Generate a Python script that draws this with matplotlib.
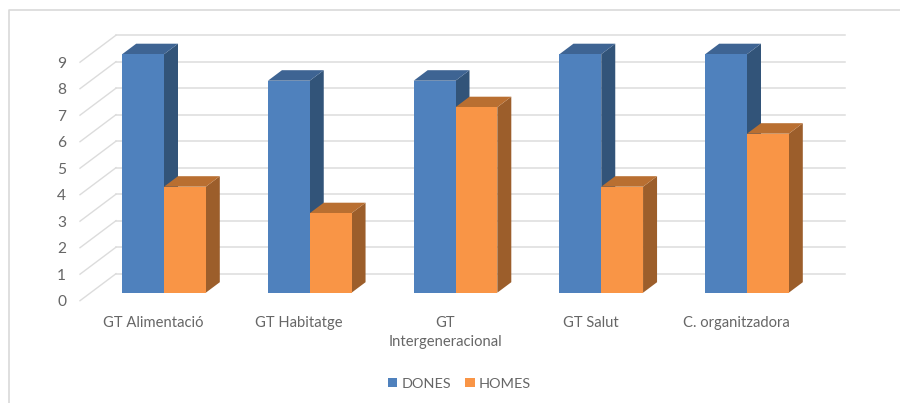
import matplotlib
matplotlib.use("Agg")
import matplotlib.pyplot as plt
from matplotlib.lines import Line2D
from matplotlib.patches import Patch, Polygon
from matplotlib.transforms import ScaledTranslation

categories = ["GT Alimentació", "GT Habitatge", "GT\nIntergeneracional", "GT Salut", "C. organitzadora"]
dones = [9, 8, 8, 9, 9]
homes = [4, 3, 7, 4, 6]
y_ticks = list(range(10))
series_names = ["DONES", "HOMES"]

W, H = 900, 403
plt.rcParams["font.family"] = ["Lato", "DejaVu Sans"]
TXT = "#666666"
GRID = "#dcdcdc"

fig = plt.figure(figsize=(W / 100, H / 100), dpi=100)
L, R, B, T = 80, 845, 300.7, 62.2
ax = fig.add_axes([L / W, 1 - B / H, (R - L) / W, (B - T) / H])
px_c = 145.75   # pixels per category
px_v = (B - T) / 9  # pixels per unit
x0 = 164
ax.set_xlim((L - x0) / px_c, (R - x0) / px_c)
ax.set_ylim(0, 9)
for s in ax.spines.values():
    s.set_visible(False)

wall_dx = 36 / px_c
wall_dy = 27 / px_v
floor = (B - 292.7) / px_v
bw = 41.8 / px_c
dx = 14 / px_c
dy = 10.5 / px_v

xl, xr = ax.get_xlim()
for v in y_ticks:
    ax.plot([xl, xl + wall_dx], [v, v + wall_dy], color=GRID, lw=1.0, zorder=1, clip_on=False)
    ax.plot([xl + wall_dx, xr], [v + wall_dy, v + wall_dy], color=GRID, lw=1.1, zorder=1, clip_on=False)


def bar3d(x_left, val, front, side, top, z):
    y0, y1 = floor, floor + val
    x1 = x_left + bw
    ax.add_patch(Polygon([(x1, y0), (x1 + dx, y0 + dy), (x1 + dx, y1 + dy), (x1, y1)],
                         fc=side, ec="none", zorder=z, clip_on=False))
    ax.add_patch(Polygon([(x_left, y1), (x_left + dx, y1 + dy), (x1 + dx, y1 + dy), (x1, y1)],
                         fc=top, ec="none", zorder=z, clip_on=False))
    ax.add_patch(Polygon([(x_left, y0), (x1, y0), (x1, y1), (x_left, y1)],
                         fc=front, ec="none", zorder=z + 0.1, clip_on=False))


for i, (d, h) in enumerate(zip(dones, homes)):
    bar3d(i - bw, d, "#4F81BD", "#325479", "#3E6493", 3 + i)
    bar3d(i, h, "#F99546", "#9C5E2B", "#B96F31", 3.5 + i)

ax.set_yticks(y_ticks)
ax.set_yticklabels([str(v) for v in y_ticks], fontsize=11.2, color=TXT)
ax.tick_params(axis="y", length=0, pad=10)
ax.set_xticks(range(len(categories)))
ax.set_xticklabels(categories, fontsize=10.6, color=TXT, linespacing=1.5)
ax.tick_params(axis="x", length=0, pad=11)
shift = ScaledTranslation(-10.5 / 100, 0, fig.dpi_scale_trans)
for lab in ax.get_xticklabels():
    lab.set_transform(lab.get_transform() + shift)

fig.add_artist(Line2D([9 / W, 9 / W, 1], [0, 1 - 10 / H, 1 - 10 / H], color="#d9d9d9", lw=1.2))

handles = [Patch(fc="#4F81BD", ec="none"), Patch(fc="#F99546", ec="none")]
fig.legend(handles, series_names, loc="center", bbox_to_anchor=(459.5 / W, 1 - 383.5 / H), ncol=2, frameon=False,
           fontsize=10.4, labelcolor=TXT, handlelength=0.65, handleheight=0.65, handletextpad=0.3,
           columnspacing=0.95, borderpad=0)

fig.savefig("out.png", dpi=100)
